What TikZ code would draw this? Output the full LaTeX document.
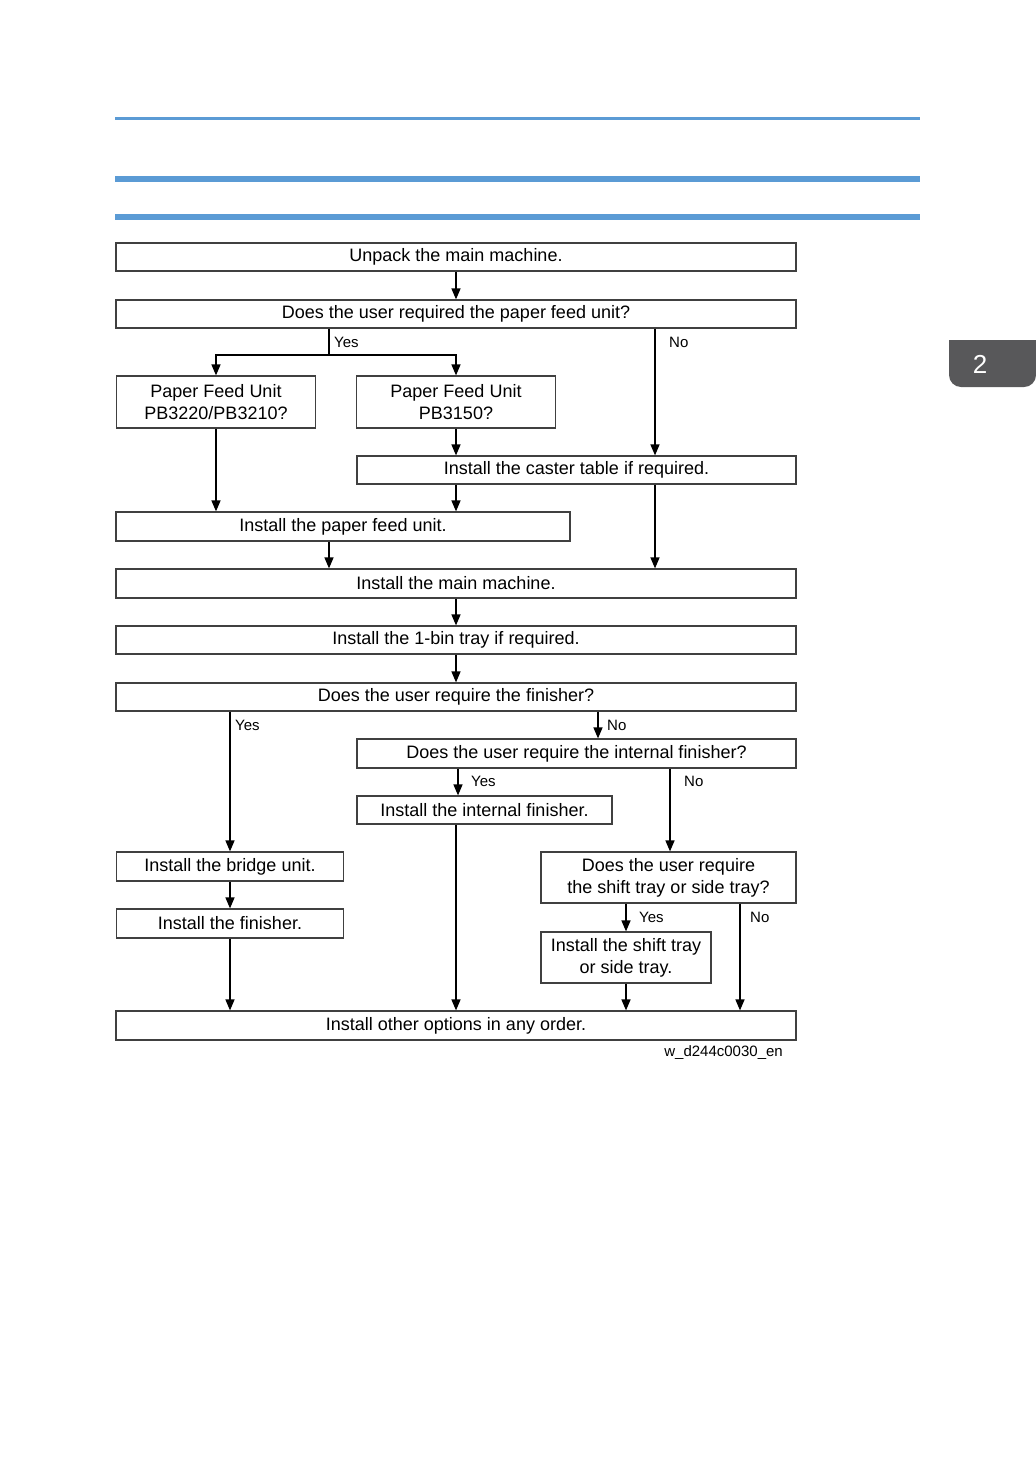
\documentclass[tikz,border=0pt]{standalone}
\usepackage{fontspec}
\setmainfont{Liberation Sans}
\usetikzlibrary{arrows.meta}
\definecolor{rule}{HTML}{5B9BD5}
\definecolor{tabgray}{HTML}{58585A}
\definecolor{boxline}{HTML}{404040}
\tikzset{
  box/.style={draw=boxline, line width=1.2pt, inner sep=0pt, align=center,
    font=\fontsize{18}{22}\selectfont},
  arr/.style={line width=1.5pt, -{Triangle[length=11pt,width=9pt]}},
  ln/.style={line width=1.5pt},
  lbl/.style={anchor=west, inner sep=0pt, font=\fontsize{15}{18}\selectfont},
}
\begin{document}
\begin{tikzpicture}[x=1pt,y=-1pt]
\useasboundingbox (0,0) rectangle (1036,1470);
% header rules
\fill[rule] (115,117) rectangle (920,120);
\fill[rule] (115,176) rectangle (920,182);
\fill[rule] (115,214) rectangle (920,220);
% tab
\fill[tabgray] (1036,340) -- (949,340) {[rounded corners=12pt] -- (949,387) -- (1036,387)} -- cycle;
\node[text=white, font=\fontsize{26}{30}\selectfont] (tab) at (980,364) {2};

% boxes
\node[box, minimum width=680pt, minimum height=28pt] (unpack) at (456,257) {Unpack the main machine.};
\node[box, minimum width=680pt, minimum height=28pt] (q1) at (456,314) {Does the user required the paper feed unit?};
\node[box, minimum width=199pt, minimum height=52pt] (pfa) at (216,402) {Paper Feed Unit\\PB3220/PB3210?};
\node[box, minimum width=199pt, minimum height=52pt] (pfb) at (456,402) {Paper Feed Unit\\PB3150?};
\node[box, minimum width=439pt, minimum height=28pt] (caster) at (576.5,470) {Install the caster table if required.};
\node[box, minimum width=454pt, minimum height=29pt] (pfu) at (343,526.5) {Install the paper feed unit.};
\node[box, minimum width=680pt, minimum height=29pt] (main) at (456,583.5) {Install the main machine.};
\node[box, minimum width=680pt, minimum height=28pt] (bin) at (456,640) {Install the 1-bin tray if required.};
\node[box, minimum width=680pt, minimum height=28pt] (qfin) at (456,697) {Does the user require the finisher?};
\node[box, minimum width=439pt, minimum height=29pt] (qint) at (576.5,753.5) {Does the user require the internal finisher?};
\node[box, minimum width=255pt, minimum height=28pt] (intfin) at (484.5,810) {Install the internal finisher.};
\node[box, minimum width=227pt, minimum height=29pt] (bridge) at (230,866.5) {Install the bridge unit.};
\node[box, minimum width=255pt, minimum height=51pt] (qshift) at (668.5,877.5) {Does the user require\\the shift tray or side tray?};
\node[box, minimum width=227pt, minimum height=29pt] (fin) at (230,923.5) {Install the finisher.};
\node[box, minimum width=170pt, minimum height=51pt] (shift) at (626,957.5) {Install the shift tray\\or side tray.};
\node[box, minimum width=680pt, minimum height=29pt] (other) at (456,1025.5) {Install other options in any order.};
\node[anchor=east, inner sep=0pt, font=\fontsize{15}{18}\selectfont] (code) at (783,1053) {w\_d244c0030\_en};

% helper coordinates
\coordinate (yesA) at (329,355);
\coordinate (noA) at (655,0);
\coordinate (noB) at (598,0);
\coordinate (yesC) at (458,0);
\coordinate (noC) at (670,0);
\coordinate (noD) at (740,0);

% connectors
\draw[arr] (unpack.south) -- (q1.north);
\draw[ln] (yesA |- q1.south) -- (yesA);
\draw[arr] (yesA) -| (pfa.north);
\draw[arr] (yesA) -| (pfb.north);
\draw[arr] (noA |- q1.south) -- (noA |- caster.north);
\draw[arr] (pfa.south) -- (pfa.south |- pfu.north);
\draw[arr] (pfb.south) -- (pfb.south |- caster.north);
\draw[arr] (pfb.south |- caster.south) -- (pfb.south |- pfu.north);
\draw[arr] (noA |- caster.south) -- (noA |- main.north);
\draw[arr] (yesA |- pfu.south) -- (yesA |- main.north);
\draw[arr] (main.south) -- (bin.north);
\draw[arr] (bin.south) -- (qfin.north);
\draw[arr] (bridge.north |- qfin.south) -- (bridge.north);
\draw[arr] (noB |- qfin.south) -- (noB |- qint.north);
\draw[arr] (yesC |- qint.south) -- (yesC |- intfin.north);
\draw[arr] (noC |- qint.south) -- (noC |- qshift.north);
\draw[arr] (other.north |- intfin.south) -- (other.north);
\draw[arr] (bridge.south) -- (fin.north);
\draw[arr] (fin.south) -- (fin.south |- other.north);
\draw[arr] (shift.north |- qshift.south) -- (shift.north);
\draw[arr] (noD |- qshift.south) -- (noD |- other.north);
\draw[arr] (shift.south) -- (shift.south |- other.north);

% labels
\node[lbl] (l1) at (334,342) {Yes};
\node[lbl] (l2) at (669,342) {No};
\node[lbl] (l3) at (235,725) {Yes};
\node[lbl] (l4) at (607,725) {No};
\node[lbl] (l5) at (471,781) {Yes};
\node[lbl] (l6) at (684,781) {No};
\node[lbl] (l7) at (639,917) {Yes};
\node[lbl] (l8) at (750,917) {No};
\end{tikzpicture}
\end{document}
